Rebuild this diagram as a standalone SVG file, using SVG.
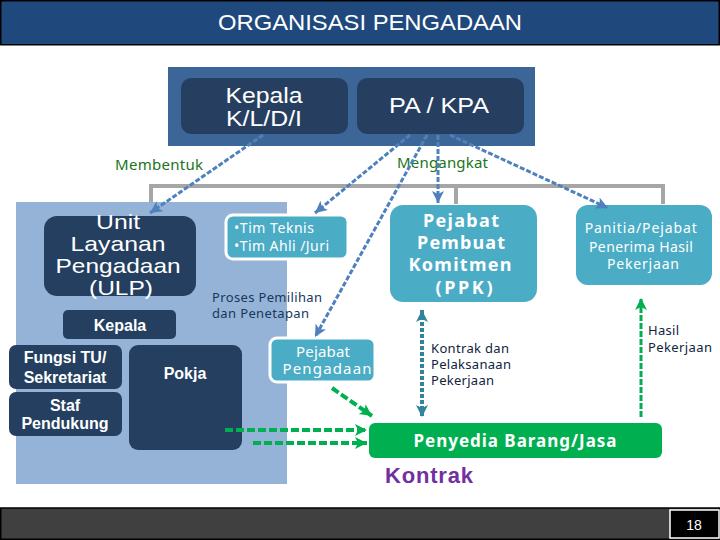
<svg xmlns="http://www.w3.org/2000/svg" width="720" height="540" viewBox="0 0 720 540">
<defs>
<style>
.ar{font-family:"Liberation Sans",Arial,sans-serif}
.ca{font-family:"Noto Sans","Open Sans",sans-serif}
.w{fill:#fff}
.dk{fill:#243F60}
.cy{fill:#4BACC6}
.blue{stroke:#4F81BD;stroke-width:3;stroke-dasharray:5 2;fill:none}
.grn{stroke:#00B050;stroke-width:4;stroke-dasharray:8 3;fill:none}
</style>
<marker id="hb" markerUnits="userSpaceOnUse" markerWidth="14" markerHeight="14" refX="12" refY="6" orient="auto"><path d="M0,0 L12,6 L0,12 L3,6 Z" fill="#4F81BD"/></marker>
<marker id="hg" markerUnits="userSpaceOnUse" markerWidth="14" markerHeight="14" refX="12" refY="6" orient="auto"><path d="M0,0 L12,6 L0,12 L3,6 Z" fill="#00B050"/></marker>
<marker id="ht" markerUnits="userSpaceOnUse" markerWidth="14" markerHeight="14" refX="12" refY="6" orient="auto"><path d="M0,0 L12,6 L0,12 L3,6 Z" fill="#31849B"/></marker>
<marker id="hts" markerUnits="userSpaceOnUse" markerWidth="14" markerHeight="14" refX="0" refY="6" orient="auto"><path d="M12,0 L0,6 L12,12 L9,6 Z" fill="#31849B"/></marker>
</defs>
<rect width="720" height="540" fill="#fff"/>

<g id="title">
<rect x="0.75" y="0.75" width="718.5" height="44" fill="#1F497D" stroke="#000" stroke-width="1.5"/>
<text class="ar w" x="370" y="30" font-size="22" text-anchor="middle" textLength="304" lengthAdjust="spacingAndGlyphs">ORGANISASI PENGADAAN</text>
</g>

<g id="top-container">
<rect x="168" y="67" width="367" height="79" fill="#3C6698"/>
</g>
<g id="kepala-kldi">
<rect x="181" y="78" width="167" height="56" rx="10" fill="#263F60"/>
<text class="ar w" x="264" y="103" font-size="22" text-anchor="middle" textLength="77" lengthAdjust="spacingAndGlyphs">Kepala</text>
<text class="ar w" x="264" y="126" font-size="22" text-anchor="middle" textLength="76" lengthAdjust="spacingAndGlyphs">K/L/D/I</text>
</g>
<g id="pa-kpa">
<rect x="357" y="78" width="167" height="56" rx="10" fill="#263F60"/>
<text class="ar w" x="439" y="113" font-size="22" text-anchor="middle" textLength="100" lengthAdjust="spacingAndGlyphs">PA / KPA</text>
</g>

<g id="bracket" stroke="#A6A6A6" stroke-width="4" fill="none">
<path d="M151,204 V186 H663 V204"/>
<path d="M456,186 V204"/>
</g>

<g id="ulp-panel">
<rect x="16" y="202" width="271" height="282" fill="#95B3D7"/>
</g>
<g id="ulp">
<rect x="44" y="216" width="152" height="80" rx="13" class="dk"/>
<text class="ar w" font-size="21" text-anchor="middle">
<tspan x="121" y="229" textLength="44" lengthAdjust="spacingAndGlyphs">Unit</tspan>
<tspan x="121" y="251" textLength="95" lengthAdjust="spacingAndGlyphs">Layanan</tspan>
<tspan x="121" y="273" textLength="125" lengthAdjust="spacingAndGlyphs">Pengadaan</tspan>
<tspan x="121" y="295" textLength="64" lengthAdjust="spacingAndGlyphs">(ULP)</tspan>
</text>
</g>
<g id="kepala-ulp">
<rect x="63" y="310" width="113" height="29" rx="5" class="dk"/>
<text class="ar w" x="120" y="331" font-size="16" font-weight="bold" text-anchor="middle">Kepala</text>
</g>
<g id="fungsi-tu">
<rect x="9" y="345" width="113" height="44" rx="7" class="dk"/>
<text class="ar w" font-size="16" font-weight="bold" text-anchor="middle"><tspan x="65" y="363">Fungsi TU/</tspan><tspan x="65" y="383">Sekretariat</tspan></text>
</g>
<g id="staf">
<rect x="9" y="392" width="113" height="44" rx="7" class="dk"/>
<text class="ar w" font-size="16" font-weight="bold" text-anchor="middle"><tspan x="65" y="411">Staf</tspan><tspan x="65" y="429">Pendukung</tspan></text>
</g>
<g id="pokja">
<rect x="129" y="345" width="113" height="105" rx="9" class="dk"/>
<text class="ar w" x="185" y="379" font-size="16" font-weight="bold" text-anchor="middle">Pokja</text>
</g>

<g id="tim">
<rect x="226" y="215" width="122" height="44" rx="7" class="cy" stroke="#fff" stroke-width="3"/>
<text class="ca w" font-size="14"><tspan x="234" y="233" textLength="80" lengthAdjust="spacing">•Tim Teknis</tspan><tspan x="234" y="251" textLength="95" lengthAdjust="spacing">•Tim Ahli /Juri</tspan></text>
</g>

<g id="pejabat-pengadaan">
<rect x="270" y="338" width="105" height="44" rx="7" class="cy" stroke="#fff" stroke-width="3"/>
<text class="ca w" font-size="15" text-anchor="middle"><tspan x="323" y="357" textLength="54" lengthAdjust="spacing">Pejabat</tspan><tspan x="327" y="374" textLength="89" lengthAdjust="spacing">Pengadaan</tspan></text>
</g>

<g id="ppk">
<rect x="390" y="205" width="147" height="97" rx="13" class="cy"/>
<text class="ca w" font-size="18" font-weight="bold" text-anchor="middle">
<tspan x="464" y="227" textLength="76" lengthAdjust="spacing">Pejabat</tspan>
<tspan x="464" y="249" textLength="88" lengthAdjust="spacing">Pembuat</tspan>
<tspan x="463" y="271" textLength="103" lengthAdjust="spacing">Komitmen</tspan>
<tspan x="464" y="294" textLength="57" lengthAdjust="spacing">(PPK)</tspan>
</text>
</g>

<g id="panitia">
<rect x="576" y="205" width="136" height="80" rx="12" class="cy"/>
<text class="ca w" font-size="14" text-anchor="middle">
<tspan x="643" y="233" textLength="112" lengthAdjust="spacing">Panitia/Pejabat</tspan>
<tspan x="643" y="252" textLength="104" lengthAdjust="spacing">Penerima Hasil</tspan>
<tspan x="643" y="269" textLength="72" lengthAdjust="spacing">Pekerjaan</tspan>
</text>
</g>

<g id="penyedia">
<rect x="369" y="423" width="293" height="35" rx="6" fill="#00B050"/>
<text class="ca w" x="515" y="447" font-size="17" font-weight="bold" text-anchor="middle" textLength="203" lengthAdjust="spacing">Penyedia Barang/Jasa</text>
</g>

<g id="labels">
<text class="ca" x="115" y="170" font-size="15" fill="#1A741A" textLength="88" lengthAdjust="spacing">Membentuk</text>
<text class="ca" x="397" y="168" font-size="15" fill="#1A741A" textLength="91" lengthAdjust="spacing">Mengangkat</text>
<text class="ca" font-size="13" fill="#17375E"><tspan x="212" y="302" textLength="110" lengthAdjust="spacing">Proses Pemilihan</tspan><tspan x="212" y="318" textLength="97" lengthAdjust="spacing">dan Penetapan</tspan></text>
<text class="ca" font-size="13" fill="#0F243E"><tspan x="431" y="353" textLength="78" lengthAdjust="spacing">Kontrak dan</tspan><tspan x="431" y="369" textLength="80" lengthAdjust="spacing">Pelaksanaan</tspan><tspan x="431" y="385" textLength="63" lengthAdjust="spacing">Pekerjaan</tspan></text>
<text class="ca" font-size="13" fill="#0F243E"><tspan x="648" y="335" textLength="31" lengthAdjust="spacing">Hasil</tspan><tspan x="648" y="352" textLength="64" lengthAdjust="spacing">Pekerjaan</tspan></text>
<text class="ar" x="385" y="483" font-size="22" font-weight="bold" fill="#7030A0" textLength="88" lengthAdjust="spacing">Kontrak</text>
</g>

<g id="connectors">
<line class="blue" x1="263" y1="135" x2="150" y2="213" marker-end="url(#hb)"/>
<line class="blue" x1="410" y1="135" x2="315" y2="213" marker-end="url(#hb)"/>
<line class="blue" x1="427" y1="135" x2="315" y2="337" marker-end="url(#hb)"/>
<line class="blue" x1="438" y1="135" x2="438" y2="203" marker-end="url(#hb)"/>
<line class="blue" x1="450" y1="135" x2="608" y2="208" marker-end="url(#hb)"/>
<line x1="422" y1="310" x2="422" y2="417" stroke="#31849B" stroke-width="4" stroke-dasharray="4 2" marker-start="url(#hts)" marker-end="url(#ht)"/>
<line x1="641" y1="417" x2="641" y2="298" stroke="#00B050" stroke-width="3" stroke-dasharray="6 2" marker-end="url(#hg)"/>
<line class="grn" x1="332" y1="388" x2="372" y2="416" marker-end="url(#hg)"/>
<line class="grn" x1="225" y1="430" x2="367" y2="430" marker-end="url(#hg)"/>
<line class="grn" x1="253" y1="443" x2="367" y2="443" marker-end="url(#hg)"/>
</g>

<g id="footer">
<rect x="0.75" y="508" width="718.5" height="31.25" fill="#404040" stroke="#000" stroke-width="1.5"/>
<rect x="670" y="510" width="49" height="28" fill="#000" stroke="#fff" stroke-width="1.5"/>
<text class="ar w" x="694" y="530" font-size="14" text-anchor="middle">18</text>
</g>
</svg>
